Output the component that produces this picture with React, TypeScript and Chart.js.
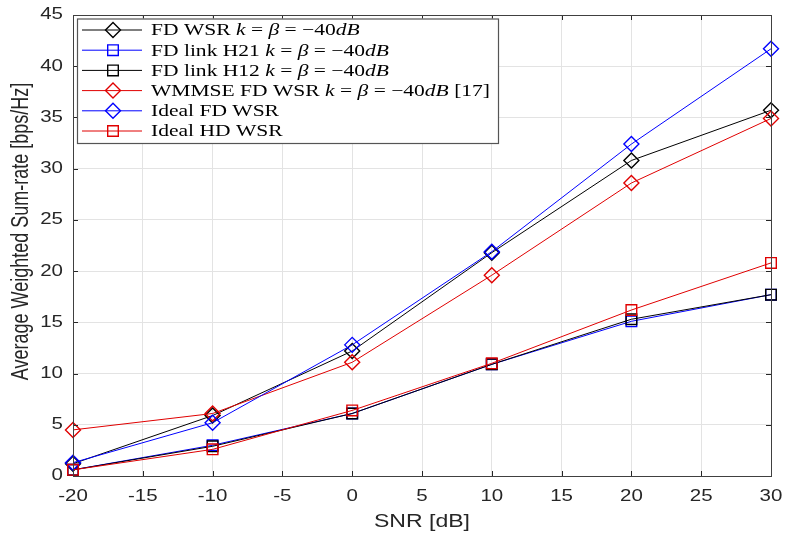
import React, { useEffect, useRef } from 'react';
import { Chart, registerables } from 'chart.js';

Chart.register(...registerables);

// ---------- data ----------
const snr = [-20, -10, 0, 10, 20, 30];
const fdWsr = [1.2, 5.9, 12.2, 21.8, 30.8, 35.7];
const fdLinkH21 = [0.6, 3.0, 6.1, 10.9, 15.1, 17.7];
const fdLinkH12 = [0.6, 2.9, 6.1, 10.9, 15.3, 17.7];
const wmmseFdWsr = [4.5, 6.1, 11.1, 19.6, 28.6, 34.9];
const idealFdWsr = [1.3, 5.2, 12.8, 21.9, 32.4, 41.7];
const idealHdWsr = [0.6, 2.6, 6.4, 11.0, 16.2, 20.8];

// '$' toggles math italic
const seriesLabels = [
  'FD WSR $k$ = $β$ = −40$dB$',
  'FD link H21 $k$ = $β$ = −40$dB$',
  'FD link H12 $k$ = $β$ = −40$dB$',
  'WMMSE FD WSR $k$ = $β$ = −40$dB$ [17]',
  'Ideal FD WSR',
  'Ideal HD WSR',
];
const seriesValues = [fdWsr, fdLinkH21, fdLinkH12, wmmseFdWsr, idealFdWsr, idealHdWsr];
const seriesColors = ['#000000', '#0000ff', '#000000', '#e00000', '#0000ff', '#e00000'];
const seriesMarkers = ['rectRot', 'rect', 'rect', 'rectRot', 'rectRot', 'rect'];

const xTitle = 'SNR [dB]';
const yTitle = 'Average Weighted Sum-rate [bps/Hz]';
const xMin = -20, xMax = 30, xStep = 5;
const yMin = 0, yMax = 45, yStep = 5;

// ---------- styling ----------
const SX = 1.28; // horizontal stretch of the original figure text
const TEXT = '#262626';
const SANS = '"Liberation Sans", Arial, Helvetica, sans-serif';
const SERIF = '"Liberation Serif", "Times New Roman", serif';

function stretchedText(ctx: CanvasRenderingContext2D, s: string, x: number, y: number, align: CanvasTextAlign) {
  ctx.save();
  ctx.translate(x, y);
  ctx.scale(SX, 1);
  ctx.textAlign = align;
  ctx.fillText(s, 0, 0);
  ctx.restore();
}

function richWidth(ctx: CanvasRenderingContext2D, text: string, size: number) {
  let w = 0;
  text.split('$').forEach((p, i) => {
    ctx.font = (i % 2 ? 'italic ' : '') + size + 'px ' + SERIF;
    w += ctx.measureText(p).width;
  });
  return w;
}

function drawRich(ctx: CanvasRenderingContext2D, text: string, x: number, y: number, size: number, sx: number) {
  ctx.save();
  ctx.translate(x, y);
  ctx.scale(sx, 1);
  ctx.textAlign = 'left';
  ctx.textBaseline = 'middle';
  let cx = 0;
  text.split('$').forEach((p, i) => {
    ctx.font = (i % 2 ? 'italic ' : '') + size + 'px ' + SERIF;
    ctx.fillText(p, cx, 0);
    cx += ctx.measureText(p).width;
  });
  ctx.restore();
}

function drawMarker(ctx: CanvasRenderingContext2D, style: string, x: number, y: number, color: string) {
  ctx.save();
  ctx.strokeStyle = color;
  ctx.lineWidth = 1.4;
  ctx.beginPath();
  if (style === 'rectRot') {
    const r = 7.5;
    ctx.moveTo(x - r, y);
    ctx.lineTo(x, y - r);
    ctx.lineTo(x + r, y);
    ctx.lineTo(x, y + r);
    ctx.closePath();
  } else {
    const h = 5.3;
    ctx.rect(x - h, y - h, 2 * h, 2 * h);
  }
  ctx.stroke();
  ctx.restore();
}

const framePlugin = {
  id: 'frame',
  afterDraw(chart: any) {
    const { ctx, chartArea: a, scales } = chart;
    const xs = scales.x;
    const ys = scales.y;
    ctx.save();
    // inward ticks
    ctx.strokeStyle = TEXT;
    ctx.lineWidth = 1;
    ctx.beginPath();
    xs.ticks.forEach((t: any) => {
      const px = Math.round(xs.getPixelForValue(t.value)) + 0.5;
      ctx.moveTo(px, a.bottom);
      ctx.lineTo(px, a.bottom - 5);
      ctx.moveTo(px, a.top);
      ctx.lineTo(px, a.top + 5);
    });
    ys.ticks.forEach((t: any) => {
      const py = Math.round(ys.getPixelForValue(t.value)) + 0.5;
      ctx.moveTo(a.left, py);
      ctx.lineTo(a.left + 5, py);
      ctx.moveTo(a.right, py);
      ctx.lineTo(a.right - 5, py);
    });
    ctx.stroke();
    // axes box
    ctx.strokeStyle = '#404040';
    ctx.strokeRect(Math.round(a.left) + 0.5, Math.round(a.top) + 0.5, Math.round(a.right - a.left), Math.round(a.bottom - a.top));

    // tick labels
    ctx.fillStyle = TEXT;
    ctx.font = '16px ' + SANS;
    ctx.textBaseline = 'middle';
    xs.ticks.forEach((t: any) => {
      stretchedText(ctx, String(t.value), xs.getPixelForValue(t.value), a.bottom + 21, 'center');
    });
    ys.ticks.forEach((t: any) => {
      stretchedText(ctx, String(t.value), a.left - 10, ys.getPixelForValue(t.value), 'right');
    });
    // axis titles
    ctx.font = '18px ' + SANS;
    stretchedText(ctx, xTitle, (a.left + a.right) / 2, a.bottom + 46, 'center');
    ctx.save();
    ctx.translate(22, (a.top + a.bottom) / 2 - 14);
    ctx.scale(SX, 1);
    ctx.rotate(-Math.PI / 2);
    ctx.textAlign = 'center';
    ctx.textBaseline = 'middle';
    ctx.fillText(yTitle, 0, 0);
    ctx.restore();

    // legend
    const bx = 77, by = 18.5, bw = 421, bh = 124.5;
    ctx.fillStyle = '#ffffff';
    ctx.fillRect(bx, by, bw, bh);
    ctx.strokeStyle = '#555555';
    ctx.lineWidth = 1.2;
    ctx.strokeRect(bx + 0.5, by + 0.5, bw, bh);
    const size = 17;
    const longest = Math.max(...seriesLabels.map((s) => richWidth(ctx, s, size)));
    const sx = 339 / longest;
    seriesLabels.forEach((lab, i) => {
      const y = 30 + i * 20.2;
      ctx.strokeStyle = seriesColors[i];
      ctx.lineWidth = 1;
      ctx.beginPath();
      ctx.moveTo(82, y);
      ctx.lineTo(142, y);
      ctx.stroke();
      drawMarker(ctx, seriesMarkers[i], 113, y, seriesColors[i]);
      ctx.fillStyle = '#000000';
      drawRich(ctx, lab, 151, y + 1, size, sx);
    });
    ctx.restore();
  },
};

export default function App() {
  const ref = useRef<HTMLCanvasElement>(null);
  useEffect(() => {
    if (!ref.current) return;
    const datasets = seriesValues.map((vals, i) => ({
      label: seriesLabels[i].replace(/\$/g, ''),
      data: snr.map((x, j) => ({ x, y: vals[j] })),
      borderColor: seriesColors[i],
      backgroundColor: 'rgba(0,0,0,0)',
      borderWidth: 1,
      pointStyle: seriesMarkers[i] as any,
      pointRadius: seriesMarkers[i] === 'rect' ? 7.5 : 7.5,
      pointBorderWidth: 1.4,
      pointBorderColor: seriesColors[i],
      pointBackgroundColor: 'rgba(0,0,0,0)',
      tension: 0,
      clip: false as any,
      order: 6 - i,
    }));
    const chart = new Chart(ref.current, {
      type: 'line',
      data: { datasets },
      options: {
        animation: false,
        responsive: true,
        maintainAspectRatio: false,
        layout: { padding: { top: 15, right: 14, left: 0, bottom: 0 } },
        plugins: { legend: { display: false }, tooltip: { enabled: false } },
        scales: {
          x: {
            type: 'linear',
            min: xMin,
            max: xMax,
            ticks: { stepSize: xStep, display: false },
            grid: { color: '#e3e3e3', drawTicks: false },
            border: { display: false },
            afterFit: (s: any) => { s.height = 57; },
          },
          y: {
            type: 'linear',
            min: yMin,
            max: yMax,
            ticks: { stepSize: yStep, display: false },
            grid: { color: '#e3e3e3', drawTicks: false },
            border: { display: false },
            afterFit: (s: any) => { s.width = 73; },
          },
        },
      },
      plugins: [framePlugin],
    });
    return () => chart.destroy();
  }, []);
  return (
    <div style={{ position: 'absolute', left: 0, top: 0, width: 785, height: 533, background: '#fff' }}>
      <canvas ref={ref} />
    </div>
  );
}
